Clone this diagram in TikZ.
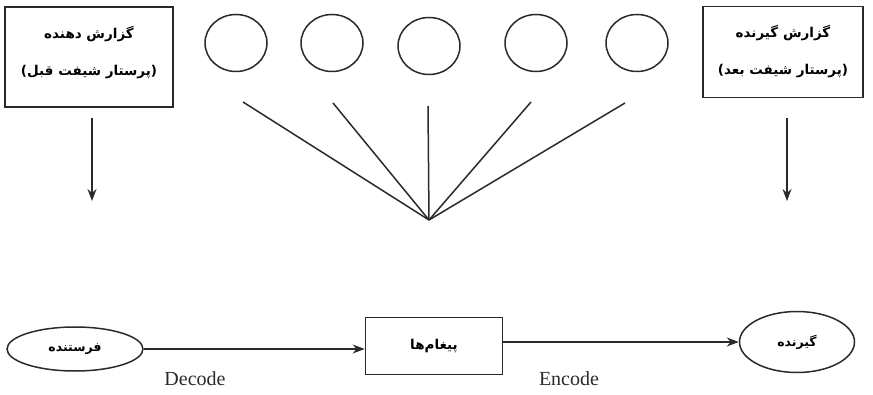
\documentclass[tikz,border=0pt]{standalone}
\usepackage{fontspec}
\setmainfont{Liberation Serif}
\newfontfamily\fa[Script=Arabic]{DejaVu Sans}
\TeXXeTstate=1
\usetikzlibrary{arrows.meta,shapes.geometric}
\definecolor{ink}{HTML}{2A2A2A}
\tikzset{
  rbox/.style={draw=ink, line width=1.7pt, inner sep=0pt, align=center, font=\fa\bfseries\fontsize{13.5}{37}\selectfont},
  oval/.style={ellipse, draw=ink, line width=1.5pt, inner sep=0pt, font=\fa\bfseries\fontsize{12.5}{15}\selectfont},
  link/.style={draw=ink, line width=1.5pt},
  arr/.style={link, -{Stealth[length=12pt,width=9pt]}},
  lat/.style={font=\fontsize{20}{24}\selectfont, text=ink}
}
\begin{document}
\begin{tikzpicture}[x=1pt,y=-1pt]
\useasboundingbox (0,0) rectangle (873,395);

% report boxes
\node[rbox, minimum width=168pt, minimum height=100pt] (giver) at (89,57) {};
\node[rbox, draw=none, align=center] (givertxt) at (89,53)
  {\beginR گزارش دهنده\endR\\\beginR (پرستار شیفت قبل)\endR};
\node[rbox, minimum width=160pt, minimum height=91pt] (taker) at (783,52)
  {\beginR گزارش گیرنده\endR\\\beginR (پرستار شیفت بعد)\endR};

% down arrows under the boxes
\coordinate (ga) at (92,118);
\coordinate (gb) at (92,201);
\coordinate (ta) at (787,118);
\coordinate (tb) at (787,201);
\draw[arr] (ga) -- (gb);
\draw[arr] (ta) -- (tb);

% row of circles
\foreach \n/\x/\y in {1/236/43, 2/332/43, 3/429/46, 4/536/43, 5/637/43}
  \node[oval, minimum width=62pt, minimum height=57pt] (c\n) at (\x,\y) {};

% fan of lines
\coordinate (hub) at (429,220);
\coordinate (f1) at (243,102);
\coordinate (f2) at (333,103);
\coordinate (f3) at (428,106);
\coordinate (f4) at (531,102);
\coordinate (f5) at (625,103);
\foreach \n in {1,...,5} \draw[link] (f\n) -- (hub);

% bottom chain
\node[oval, minimum width=136pt, minimum height=44pt] (sender) at (75,349) {\beginR فرستنده\endR};
\node[rbox, minimum width=137pt, minimum height=57pt] (msg) at (434,346) {\beginR پیغام‌ها\endR};
\node[oval, minimum width=115pt, minimum height=61pt] (recv) at (797,342) {\beginR گیرنده\endR};

\draw[arr] (sender.east) -- (sender.east -| msg.west);
\draw[arr] (msg.east |- recv.west) -- (recv.west);

\node[lat] (dec) at (195,379) {Decode};
\node[lat] (enc) at (569,379) {Encode};
\end{tikzpicture}
\end{document}
